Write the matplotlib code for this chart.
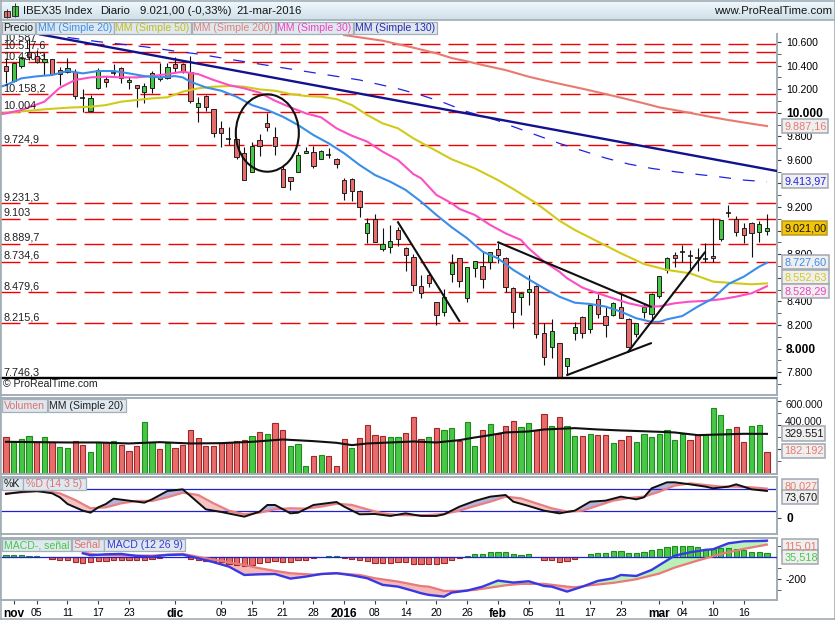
import numpy as np
import matplotlib
matplotlib.use('Agg')
import matplotlib.pyplot as plt
from matplotlib.colors import LinearSegmentedColormap
from matplotlib.patches import Ellipse, Rectangle

plt.rcParams['font.family'] = ['Liberation Sans', 'DejaVu Sans']
plt.rcParams['lines.scale_dashes'] = False

# candles
opens = [10396,10269,10399,10518,10484,10430,10453,10362,10345,10345,
         10122,10015,10212,10286,10334,10376,10258,10232,10179,10212,
         10283,10297,10413,10413,10348,10046,10142,10029,9868,9780,
         9774,9656,9494,9766,9910,9791,9520,9452,9500,9661,
         9670,9610,9644,9605,9429,9435,9333,8977,9096,8847,
         8864,9003,8850,8774,8528,8621,8392,8313,8635,8765,
         8426,8681,8698,8732,8847,8765,8511,8435,8477,8534,
         8129,8016,8045,7850,8135,8265,8163,8418,8279,8285,
         8350,8254,8127,8313,8290,8449,8667,8791,8819,8785,
         8765,8763,8782,8929,9150,9096,9020,9062,8992,9000]
highs = [10461,10425,10475,10631,10532,10504,10453,10391,10461,10368,
         10198,10150,10376,10311,10413,10391,10306,10232,10249,10354,
         10419,10419,10470,10419,10481,10136,10150,10029,9933,9876,
         9774,9712,9754,9817,9995,9876,9557,9458,9670,9712,
         9721,9684,9698,9616,9444,9444,9345,9105,9141,9020,
         9048,9028,8859,8802,8624,8638,8398,8503,8802,8765,
         8689,8740,8822,8816,8893,8774,8520,8483,8624,8539,
         8214,8248,8045,7923,8223,8276,8370,8463,8356,8398,
         8463,8259,8214,8384,8469,8613,8780,8822,8879,8836,
         8856,8893,9105,9091,9218,9124,9068,9071,9082,9141]
lows = [10249,10263,10376,10447,10419,10320,10320,10235,10340,10114,
        10009,10009,10198,10221,10320,10249,10201,10046,10080,10170,
        10272,10283,10348,10334,10085,9924,10017,9791,9712,9723,
        9605,9427,9494,9633,9848,9644,9367,9345,9500,9656,
        9534,9605,9613,9534,9260,9254,9118,8893,8907,8830,
        8813,8873,8661,8491,8426,8525,8203,8276,8568,8525,
        8398,8610,8517,8672,8723,8480,8177,8285,8370,8087,
        7861,7923,7748,7776,8073,8093,8135,8257,8101,8276,
        8257,8002,8101,8257,8242,8426,8638,8695,8737,8672,
        8661,8737,8737,8915,9119,8958,8893,8780,8901,8963]
closes = [10357,10419,10461,10470,10427,10453,10326,10328,10376,10145,
          10122,10122,10362,10258,10334,10292,10278,10207,10224,10334,
          10306,10385,10376,10345,10097,10080,10046,9831,9831,9780,
          9627,9427,9718,9718,9876,9715,9367,9418,9641,9678,
          9551,9672,9644,9565,9316,9333,9198,9062,8907,8884,
          8915,8932,8791,8542,8469,8553,8285,8440,8723,8570,
          8689,8740,8587,8816,8791,8525,8313,8469,8503,8124,
          7926,8146,7748,7923,8180,8135,8367,8296,8200,8384,
          8262,8016,8214,8350,8460,8613,8765,8765,8819,8785,
          8765,8763,8765,9088,9150,8986,8963,8977,9054,9021]

# moving averages, read every few bars
ma20_x = [-1,0,2,4,6,8,10,12,14,16,18,20,22,23,24,26,28,30,32,34,36,38,40,42,44,46,48,50,52,
          54,56,58,60,62,64,66,68,70,72,74,76,78,80,82,84,85,86,88,90,92,94,96,98,99]
ma20_y = [10215,10235,10292,10309,10320,10354,10334,10354,10354,10334,10311,10300,10311,10300,10263,
          10215,10187,10136,10065,10023,9967,9896,9811,9740,9656,9557,9472,9415,9345,
          9246,9133,9028,8935,8822,8765,8667,8587,8511,8440,8389,8378,8356,8313,8257,8226,8226,8248,
          8276,8356,8426,8548,8610,8695,8727.6]
ma30_x = [-1,0,2,5,7,9,11,13,15,17,19,21,23,25,27,29,31,33,35,37,39,41,43,45,47,49,51,53,54,
          56,58,59,61,63,65,67,68,70,72,73,75,77,79,81,83,85,87,89,91,93,95,97,99]
ma30_y = [9986,9995,10023,10094,10212,10278,10300,10306,10300,10300,10311,10328,10348,10328,10278,
          10235,10207,10170,10102,10046,9995,9961,9868,9805,9755,9670,9599,9480,9444,
          9303,9232,9184,9133,9048,8977,8921,8850,8737,8652,8596,8517,8469,8426,8384,8356,8358,8384,
          8398,8404,8418,8440,8469,8528.29]
ma50_x = [-1,0,3,5,8,11,13,15,17,19,21,23,25,27,29,31,33,35,37,39,41,43,45,47,49,51,53,55,58,
          61,64,66,69,72,74,77,80,83,86,89,92,95,97,99]
ma50_y = [9986,10000,10017,10029,10043,10051,10065,10094,10108,10122,10131,10179,10207,10221,10227,
          10221,10198,10187,10159,10142,10136,10116,10065,9981,9910,9868,9783,9712,9605,
          9528,9429,9353,9232,9085,9006,8907,8808,8717,8667,8638,8568,8553,8545,8552.63]
ma200_x = [44,49,53,56,58,60,62,65,68,70,73,75,78,80,83,85,87,90,92,94,97,99]
ma200_y = [10659,10611,10552,10504,10464,10436,10405,10362,10306,10275,10232,10204,10159,10128,
           10080,10046,10023,9986,9961,9938,9907,9887.16]
ma130_x = [8,12,18,22,25,30,37,40,46,51,54,57,60,64,66,69,72,75,78,81,84,87,90,93,96,99]
ma130_y = [10639,10603,10560,10523,10498,10444,10371,10340,10278,10204,10150,10085,10009,9933,
           9882,9811,9740,9678,9616,9565,9528,9500,9477,9455,9429,9413.97]

# horizontal levels
levels = [10587,10517.6,10430.3,10158.2,10004,9724.9,9231.3,9103,8889.7,8734.6,8479.6,8215.6]
level_labels = ['10.587','10.517,6','10.430,3','10.158,2','10.004','9.724,9','9.231,3','9.103',
                '8.889,7','8.734,6','8.479,6','8.215,6']
support = 7746.3
support_label = '7.746,3'

# hand drawn lines (bar, price, bar, price)
navy_trend = (4.42, 10665, 100.3, 9506)
black_trends = [(51, 9071, 58.98, 8234),
                (64.05, 8901, 83.9, 8355),
                (73.03, 7776, 83.9, 8045),
                (80.96, 7974, 90.9, 8814)]

# volume
volume = [299700,263600,283000,308000,263600,299700,263600,216500,208100,272000,
          233100,174800,258100,263600,272000,233100,183200,224800,424600,263600,
          199800,255300,208100,233100,358000,291400,224800,224800,249800,258100,
          266400,274700,308000,341300,324700,416300,358000,224800,241400,58300,
          141500,149900,141500,58300,283000,208100,291400,399600,316400,308000,
          299700,299700,333000,466200,283000,299700,374600,358000,374600,266400,
          424600,224800,358000,407900,324700,391300,432900,383000,416300,358000,
          491200,391300,466200,391300,308000,308000,324700,316400,316400,249800,
          274700,308000,258100,324700,299700,324700,358000,274700,324700,274700,
          316400,316400,541100,482900,366300,383000,258100,391300,399600,182192]
vol_colors = ('rgggrgrggr' 'rggrgrrrgg' 'rgrrrrrrrr' 'rrgrgrrggg' 'rgrrrgrrrr'
              'ggrrrgrggr' 'ggrgrrrggr' 'rgrggrgrrg' 'rrgggggggr' 'rggggrrggr')
vol_ma_x = [0,4,8,12,16,20,24,28,32,36,40,43,45,47,49,53,56,59,61,63,65,68,70,74,77,80,85,87,90,93,96,99]
vol_ma_y = [263600,260800,258100,258100,249800,260800,249800,252500,263600,283000,269200,255300,
            235900,249800,255300,266400,258100,277500,299700,319100,341300,349700,366300,377400,
            366300,358000,346900,341300,319100,324700,330200,329551]

# stochastic
k_x = [0,2,4,6,7,8,10,11,12,13,14,16,18,19,21,23,24,26,28,31,33,34,35,37,38,40,43,44,46,48,50,52,54,
       56,57,59,61,63,65,66,68,70,72,74,76,78,80,82,83,84,86,87,89,91,92,94,95,97,99]
k_y = [65.5,71,73.6,67.3,56.4,38.2,20,14.5,29,38.2,52.7,47.3,41.8,50.9,73.6,78.2,60,23.6,16.4,3.6,
       17.3,35.5,35.5,12.7,14.5,35.5,43.6,30.9,10,10.9,5.5,12.7,5.5,
       5.5,10,30.9,46.4,58.2,62.7,44.5,32.7,20,12.7,20,44.5,47.3,58.2,50.9,56.4,80.9,97.3,97.3,91.8,
       85.5,80.9,85.5,91.8,78.2,73.67]
d_x = [0,2,5,7,9,11,13,15,17,19,21,23,25,27,29,31,33,35,37,39,41,43,45,47,49,51,53,55,57,59,61,63,65,
       67,69,71,73,75,77,79,81,83,85,87,89,91,93,95,97,99]
d_y = [67.3,70,73.6,67.3,49,26.4,29,40,46.4,46.4,56.4,69,62.7,40,20,10,14.5,23.6,26.4,25.5,30.9,39,
       35.5,23.6,12.7,8.2,7.3,8.2,10.9,20,32.7,44.5,58.2,
       53.6,40,26.4,17.3,20,33.6,47.3,54.5,58.2,71.8,88.2,94.5,90,85.5,85.5,83.6,80.03]

# macd
macd_x = [10,11,13,15,17,19,21,23,25,27,29,31,33,35,37,39,41,43,45,47,49,51,53,54,55,57,58,60,62,64,
          66,68,70,71,73,75,77,79,80,82,84,87,89,91,92,94,96,98,99]
macd_y = [36,18,27,30,12,6,21,24,-9,-45,-85,-161,-155,-152,-194,-176,-152,-145,-164,-191,-251,-267,
          -306,-327,-342,-358,-321,-303,-267,-212,-230,-218,-261,-267,-312,-267,-215,-191,-161,-170,
          -115,15,45,67,73,127,145,148,150.5]
signal_x = [10,12,15,19,23,26,29,31,33,35,37,40,43,46,48,51,54,55,57,59,61,63,65,67,70,73,74,76,79,82,
            85,87,90,93,96,99]
signal_y = [42,21,15,15,30,-9,-45,-70,-100,-124,-145,-158,-145,-161,-191,-221,-262,-267,-306,-306,
            -297,-276,-255,-242,-242,-267,-273,-255,-233,-200,-148,-94,-30,30,76,115.01]
macd_hist = [18,18,18,12,12,0,-15,-21,-21,-39,-48,-45,-36,-33,-27,-21,-21,-21,-21,-18,
             -9,0,0,0,-18,-27,-30,-36,-45,-60,-72,-75,-66,-54,-39,-30,-45,-45,-27,-21,
             -9,0,12,12,-9,-12,-27,-33,-54,-54,-54,-45,-45,-60,-60,-57,-64,-54,-21,-9,
             9,27,27,45,52,45,27,18,27,0,-27,-21,-45,-36,-18,0,27,36,36,54,
             54,36,36,45,64,73,91,100,100,100,91,73,73,82,82,73,64,45,45,35.5]

# x axis
tick_pos = [1,4,8,12,16,22,28,32,36,40,44,48,52,56,60,64,68,72,76,80,85,88,92,96]
tick_labels = ['nov','05','11','17','23','dic','09','15','21','28','2016','08','14',
               '20','26','feb','05','11','17','23','mar','04','10','16']
bold_labels = ['nov','dic','2016','feb','mar']

W, H = 835, 620
FRAME = '#a2adb5'
RED_FILL = '#e96c6c'
GREEN_FILL = '#46c846'
n = len(closes)
bars = np.arange(n)
xlim = (-0.78, 100.31)


def panel(top, bottom, ylim):
    ax = fig.add_axes([0, 1 - bottom / H, 777 / W, (bottom - top) / H])
    ax.set_xlim(*xlim)
    ax.set_ylim(*ylim)
    ax.yaxis.tick_right()
    ax.set_xticks([])
    for s in ax.spines.values():
        s.set_color(FRAME)
        s.set_linewidth(1.4)
    ax.tick_params(axis='y', which='major', length=3, labelsize=7.6, pad=3.5, color='#404040')
    ax.tick_params(axis='y', which='minor', length=3, color='#404040')
    return ax


def fill_cross(ax, xa, ya, xb, yb, up, down):
    grid = np.arange(min(xa[0], xb[0]), 99.01, 0.1)
    a = np.interp(grid, xa, ya)
    b = np.interp(grid, xb, yb)
    ax.fill_between(grid, a, b, where=a >= b, color=up, lw=0)
    ax.fill_between(grid, a, b, where=a < b, color=down, lw=0)


fig = plt.figure(figsize=(W / 100, H / 100), dpi=100, facecolor='white')

# price panel
ax = panel(34, 395, (7606, 10668))
ax.spines['top'].set_visible(False)
ax.hlines(levels, xlim[0], xlim[1], colors='#f00000', lw=1, linestyles=[(0, (14.4, 5.76))], zorder=1)
for lev, lab in zip(levels + [support], level_labels + [support_label]):
    ax.annotate(lab, (xlim[0], lev), xytext=(3, 1), textcoords='offset pixels', fontsize=7.8,
                color='#202020', va='bottom', annotation_clip=False, zorder=8)
ax.text(0.004, 0.0165, '© ProRealTime.com', transform=ax.transAxes, fontsize=7.6, color='#202020', va='bottom')

for i in bars:
    ax.vlines(i, lows[i], highs[i], colors='#101010', lw=0.8, zorder=2)
    if opens[i] == closes[i]:
        ax.hlines(opens[i], i - 0.33, i + 0.33, colors='#101010', lw=1.1, zorder=3)
    else:
        col = GREEN_FILL if closes[i] > opens[i] else RED_FILL
        ax.bar(i, abs(closes[i] - opens[i]), bottom=min(opens[i], closes[i]), width=0.56,
               color=col, edgecolor='#202020', linewidth=0.7, zorder=3)

ax.plot(ma200_x, ma200_y, color='#e87a70', lw=1.5, zorder=4)
ax.plot(ma50_x, ma50_y, color='#d2ca18', lw=1.5, zorder=4)
ax.plot(ma30_x, ma30_y, color='#fb4fc3', lw=1.5, zorder=4)
ax.plot(ma20_x, ma20_y, color='#3a8eea', lw=1.5, zorder=4)
ax.plot(ma130_x, ma130_y, color='#2222e0', lw=0.9, linestyle=(0, (8.6, 8.6)), zorder=4)
ax.plot(navy_trend[::2], navy_trend[1::2], color='#12128e', lw=1.7, zorder=5)
for t in black_trends:
    ax.plot(t[::2], t[1::2], color='#101010', lw=1.5, zorder=5)
ax.hlines(support, xlim[0], xlim[1], colors='black', lw=1.7, zorder=6)
ax.add_patch(Ellipse((34, 9828), 8.2, 656, fill=False, ec='#101010', lw=1.5, zorder=6))

major = [7800, 8000, 8200, 8400, 8600, 8800, 9000, 9200, 9400, 9600, 9800, 10000, 10200, 10400, 10600]
hidden = [8600, 9000, 9400]  # behind the value boxes in the reference
ax.set_yticks(major)
ax.set_yticklabels(['' if v in hidden else f'{v // 1000}.{v % 1000:03d}' for v in major])
ax.set_yticks([v + 100 for v in major[:-1]] + [7700], minor=True)
for lab in ax.get_yticklabels():
    if lab.get_text() in ('10.000', '8.000'):
        lab.set_fontweight('bold')
        lab.set_fontsize(8.6)

# volume panel
ax_v = panel(398, 473.5, (0, 628000))
ax_v.bar(bars, volume, width=0.68, linewidth=0.8,
         color=[GREEN_FILL if c == 'g' else RED_FILL for c in vol_colors],
         edgecolor=['#1f8a1f' if c == 'g' else '#a02828' for c in vol_colors], zorder=2)
ax_v.plot(vol_ma_x, vol_ma_y, color='#101010', lw=1.5, zorder=3)
ax_v.set_yticks([200000, 400000, 600000])
ax_v.set_yticklabels([])
ax_v.set_yticks([100000, 300000, 500000], minor=True)

# stochastic panel
ax_s = panel(477, 534, (-43.7, 111.8))
fill_cross(ax_s, k_x, k_y, d_x, d_y, '#b4b4dc', '#f6c4c4')
ax_s.axhline(80, color='#2020d0', lw=0.9, zorder=2)
ax_s.axhline(20, color='#2020d0', lw=0.9, zorder=2)
ax_s.plot(d_x, d_y, color='#e88080', lw=1.6, zorder=3)
ax_s.plot(k_x, k_y, color='#101010', lw=1.4, zorder=4)
ax_s.set_yticks([0])
ax_s.set_yticklabels(['0'], fontweight='bold', fontsize=8.6)

# macd panel
ax_m = panel(538, 599.5, (-384, 175))
fill_cross(ax_m, macd_x, macd_y, signal_x, signal_y, '#b8f2b8', '#f5b8b8')
hist_h = np.array(macd_hist)
ax_m.bar(bars[hist_h != 0], hist_h[hist_h != 0], width=0.68, linewidth=0.8,
         color=[GREEN_FILL if v > 0 else RED_FILL for v in hist_h[hist_h != 0]],
         edgecolor=['#1f8a1f' if v > 0 else '#a02828' for v in hist_h[hist_h != 0]], zorder=2)
ax_m.axhline(0, color='#2020d0', lw=0.9, zorder=3)
ax_m.plot(signal_x, signal_y, color='#e87a7a', lw=1.6, zorder=4)
ax_m.plot(macd_x, macd_y, color='#3838e4', lw=1.7, zorder=5)
ax_m.set_yticks([-200])
ax_m.set_yticklabels(['-200'])
ax_m.set_yticks([-300, -100, 100], minor=True)
ax_m.set_xticks(tick_pos)
ax_m.set_xticklabels(tick_labels)
ax_m.tick_params(axis='x', length=3, pad=3, labelsize=7.6, color='#404040')
for lab in ax_m.get_xticklabels():
    if lab.get_text() in bold_labels:
        lab.set_fontweight('bold')
        lab.set_fontsize(8.6)

# header, legend buttons, value boxes
top = fig.add_axes([0, 0, 1, 1], zorder=20)
top.patch.set_alpha(0)
top.axis('off')
header_cmap = LinearSegmentedColormap.from_list('hdr', ['#f1f9fd', '#cfe0ea'])
top.imshow(np.linspace(0, 1, 20)[:, None], extent=[0, W, 20, 0], cmap=header_cmap, aspect='auto', zorder=1)
top.set_xlim(0, W)
top.set_ylim(H, 0)
top.hlines([0.5, 20, H - 0.7], 0, W, colors=FRAME, lw=1.2)
top.vlines([0.5, W - 0.5], 0, H, colors=FRAME, lw=1.2)
top.add_patch(Rectangle((3.5, 11), 6, 6, fc=RED_FILL, ec='#303030', lw=0.7))
top.vlines(6.5, 9, 18, colors='#303030', lw=0.7)
top.add_patch(Rectangle((11.5, 6), 6, 10, fc=GREEN_FILL, ec='#303030', lw=0.7))
top.vlines(14.5, 3, 17, colors='#303030', lw=0.7)

for x, txt in [(23, 'IBEX35 Index'), (100, 'Diario'), (140, '9.021,00 (-0,33%)'), (236, '21-mar-2016')]:
    top.text(x, 11, txt, fontsize=8.2, va='center', color='#151515')
top.text(832, 11, 'www.ProRealTime.com', fontsize=8.2, va='center', ha='right', color='#151515')


def buttons(y0, y1, items):
    for x0, x1, txt, col in items:
        top.add_patch(Rectangle((x0, y0), x1 - x0, y1 - y0, fc='#dfe8ee', ec='#a4b0b8', lw=0.9, zorder=3))
        top.text((x0 + x1) / 2, (y0 + y1) / 2 + 0.3, txt, fontsize=7.6, color=col, ha='center', va='center', zorder=4)


buttons(22, 33.5, [(1.5, 35, 'Precio', '#151515'),
                   (36, 113.5, 'MM (Simple 20)', '#3a8eea'),
                   (114, 191, 'MM (Simple 50)', '#c4bc20'),
                   (191.5, 275, 'MM (Simple 200)', '#e08078'),
                   (275.5, 353, 'MM (Simple 30)', '#f040c0'),
                   (354, 437, 'MM (Simple 130)', '#2828b0')])
buttons(399, 412, [(1.5, 47, 'Volumen', '#e07070'), (47.5, 125.5, 'MM (Simple 20)', '#202020')])
buttons(477.5, 490, [(1.5, 22.5, '%K', '#151515'), (23, 85.5, '%D (14 3 5)', '#e07070')])
buttons(538.5, 551, [(1.5, 71, 'MACD-, señal', '#48c848'), (71.5, 103.5, 'Señal', '#e07070'),
                     (104, 185, 'MACD (12 26 9)', '#3838d8')])

top.text(785, 405, '600.000', fontsize=7.6, va='center', color='#151515')
top.text(785, 422, '400.000', fontsize=7.6, va='center', color='#151515', clip_on=True)


def value_box(y, w, txt, col, face='#efefef', edge='#a0a8b0'):
    top.add_patch(Rectangle((782, y - 7.3), w, 14.6, fc=face, ec=edge, lw=1.1, zorder=5))
    top.text(784.5, y + 0.3, txt, fontsize=7.8, color=col, va='center', zorder=6)


value_box(126, 46, '9.887,16', '#e87a70')
value_box(181, 46, '9.413,97', '#2222e0')
value_box(228, 45, '9.021,00', '#151515', face='#f3c408', edge='#b89a20')
value_box(262, 47, '8.727,60', '#3a8eea')
value_box(277, 47, '8.552,63', '#d2ca18')
value_box(291, 47, '8.528,29', '#f040c0')
value_box(433.5, 43, '329.551', '#151515')
value_box(451, 43, '182.192', '#e87a70')
value_box(486, 36, '80,027', '#e87a70')
value_box(497, 36, '73,670', '#151515')
value_box(546, 36, '115,01', '#e87a70')
value_box(557, 36, '35,518', '#48c848')

fig.savefig('out.png', dpi=100)
